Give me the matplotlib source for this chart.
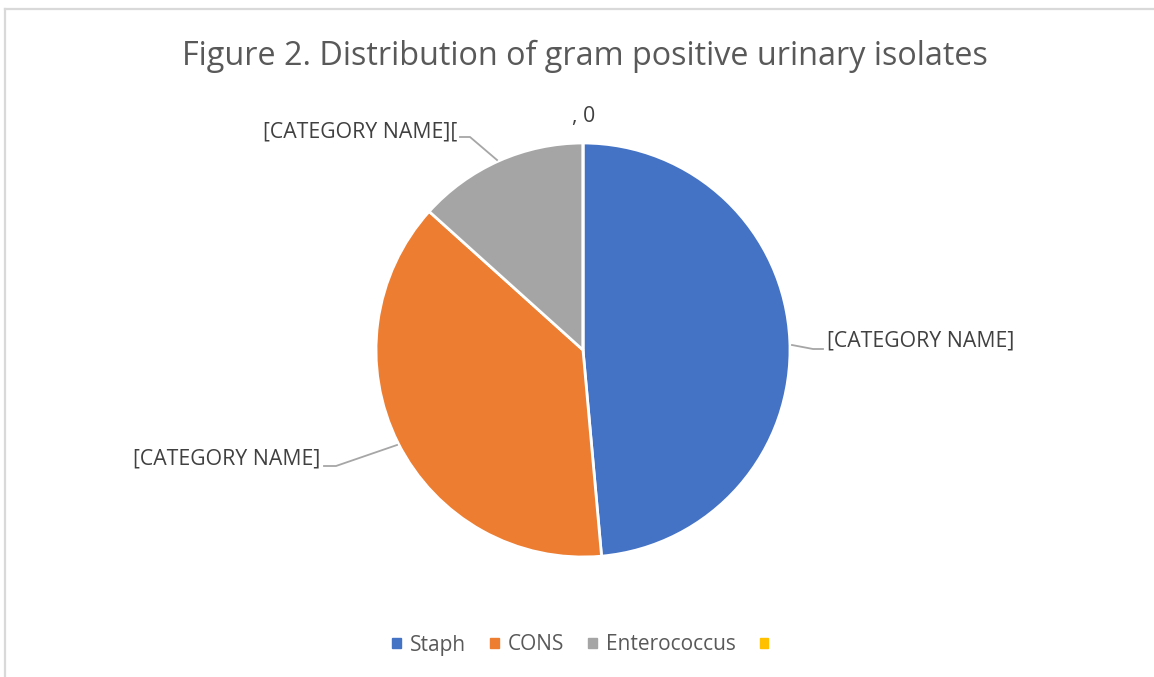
import matplotlib
matplotlib.use("Agg")
import matplotlib.pyplot as plt
from matplotlib.lines import Line2D
from matplotlib.patches import Rectangle

# ---- data ----
categories = ["Staph", "CONS", "Enterococcus", ""]
values = [51, 40, 14, 0]
colors = ["#4472C4", "#ED7D31", "#A5A5A5", "#FFC000"]
slice_labels = ["[CATEGORY NAME]", "[CATEGORY NAME]", "[CATEGORY NAME][", ", 0"]
title = "Figure 2. Distribution of gram positive urinary isolates"

plt.rcParams['font.family'] = ['Open Sans', 'DejaVu Sans']
W, H = 1154, 677
fig = plt.figure(figsize=(W / 100, H / 100), dpi=100)
fig.patch.set_facecolor("white")

# chart border
fig.add_artist(Line2D([5 / W, 5 / W], [0, 1 - 9 / H], color="#d9d9d9", lw=1.6,
                      transform=fig.transFigure))
fig.add_artist(Line2D([5 / W, 1], [1 - 9 / H, 1 - 9 / H], color="#d9d9d9", lw=1.6,
                      transform=fig.transFigure))

fig.text(585 / W, 1 - 56 / H, title, ha="center", va="center", fontsize=23.3,
         color="#595959")

cx, cy, r = 583, 350, 207
ax = fig.add_axes([(cx - r) / W, (H - cy - r) / H, 2 * r / W, 2 * r / H])
wedges, _ = ax.pie(values, colors=colors, startangle=90, counterclock=False,
                   wedgeprops=dict(edgecolor="white", linewidth=2))
ax.set_xlim(-1, 1)
ax.set_ylim(-1, 1)
ax.set_aspect("equal")
ax.axis("off")

# labels (data coords relative to pie, radius = 1)
def d(px, py):
    return ((px - cx) / r, (cy - py) / r)

lab_color = "#404040"
line_color = "#a6a6a6"
fs = 15.3

# Staph
ax.plot(*zip(d(792, 345), d(813, 349), d(823, 349)), color=line_color, lw=1.3, clip_on=False)
ax.text(*d(827, 341), slice_labels[0], ha="left", va="center", fontsize=fs, color=lab_color)
# CONS
ax.plot(*zip(d(397, 445), d(336, 466), d(324, 466)), color=line_color, lw=1.3, clip_on=False)
ax.text(*d(320, 459), slice_labels[1], ha="right", va="center", fontsize=fs, color=lab_color)
# Enterococcus
ax.plot(*zip(d(497, 160), d(470, 137), d(460, 137)), color=line_color, lw=1.3, clip_on=False)
ax.text(*d(457, 132), slice_labels[2], ha="right", va="center", fontsize=fs, color=lab_color)
# zero slice
ax.text(*d(584, 116), slice_labels[3], ha="center", va="center", fontsize=fs, color=lab_color)

handles = [Rectangle((0, 0), 1, 1, color=c) for c in colors]
leg = fig.legend(handles, categories, loc="center", bbox_to_anchor=(585 / W, 1 - 645 / H),
                 ncol=4, frameon=False, fontsize=15, handlelength=0.4, handleheight=0.4,
                 handletextpad=0.45, columnspacing=1.15)
for t in leg.get_texts():
    t.set_color("#595959")

fig.savefig("out.png", dpi=100, facecolor="white")
